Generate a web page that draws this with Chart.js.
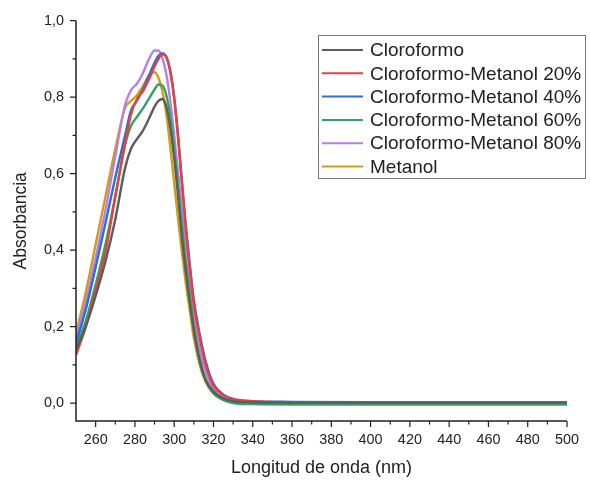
<!DOCTYPE html>
<html>
<head>
<meta charset="utf-8">
<script src="https://cdn.jsdelivr.net/npm/chart.js@4.4.1/dist/chart.umd.min.js"></script>
<style>
  html, body { margin: 0; padding: 0; background: #fff; }
  canvas { display: block; }
</style>
</head>
<body>
<canvas id="uvChart" width="590" height="482"></canvas>
<script>
// Wavelength grid (nm) shared by all spectra
const wavelength = [250, 255, 260, 265, 270, 275, 278, 281, 284, 287, 290, 292, 294, 296, 298, 300,
                    302, 304, 306, 308, 310, 313, 316, 320, 325, 330, 340, 360, 400, 450, 500];

// Absorbance for each solvent
const cloroformo = [0.138, 0.20, 0.28, 0.37, 0.48, 0.615, 0.665, 0.69, 0.712, 0.742, 0.775, 0.79, 0.795, 0.775, 0.72, 0.64,
                    0.54, 0.43, 0.34, 0.26, 0.19, 0.11, 0.06, 0.03, 0.012, 0.005, 0.002, 0.001, 0.001, 0.001, 0.001];
const metanol20 = [0.125, 0.20, 0.295, 0.395, 0.54, 0.68, 0.755, 0.795, 0.815, 0.845, 0.88, 0.90, 0.912, 0.905, 0.865, 0.795,
                   0.69, 0.57, 0.45, 0.35, 0.26, 0.17, 0.10, 0.045, 0.02, 0.01, 0.004, 0.002, 0.002, 0.002, 0.002];
const metanol40 = [0.157, 0.245, 0.355, 0.47, 0.59, 0.70, 0.765, 0.79, 0.82, 0.855, 0.89, 0.908, 0.915, 0.905, 0.87, 0.80,
                   0.70, 0.575, 0.46, 0.36, 0.27, 0.18, 0.11, 0.05, 0.022, 0.011, 0.005, 0.003, 0.002, 0.002, 0.002];
const metanol60 = [0.147, 0.215, 0.31, 0.415, 0.54, 0.675, 0.725, 0.748, 0.77, 0.795, 0.82, 0.833, 0.83, 0.805, 0.75, 0.665,
                   0.565, 0.46, 0.36, 0.28, 0.20, 0.115, 0.06, 0.025, 0.008, 0.0, -0.003, -0.004, -0.004, -0.004, -0.004];
const metanol80 = [0.17, 0.265, 0.38, 0.505, 0.645, 0.78, 0.818, 0.835, 0.862, 0.898, 0.922, 0.922, 0.902, 0.86, 0.79, 0.70,
                   0.60, 0.50, 0.40, 0.31, 0.23, 0.14, 0.08, 0.035, 0.013, 0.006, 0.003, 0.002, 0.001, 0.001, 0.001];
const metanol = [0.183, 0.29, 0.415, 0.54, 0.665, 0.772, 0.79, 0.805, 0.828, 0.855, 0.865, 0.85, 0.815, 0.755, 0.67, 0.575,
                 0.48, 0.39, 0.31, 0.24, 0.17, 0.10, 0.055, 0.025, 0.008, 0.003, 0.001, 0.001, 0.001, 0.001, 0.001];

const seriesLabels = ["Cloroformo", "Cloroformo-Metanol 20%", "Cloroformo-Metanol 40%",
                      "Cloroformo-Metanol 60%", "Cloroformo-Metanol 80%", "Metanol"];
const seriesColors = ["#5c5c5c", "#e8413c", "#2b6fd6", "#2fa366", "#b67fe9", "#d09e14"];
const seriesValues = [cloroformo, metanol20, metanol40, metanol60, metanol80, metanol];

const xTicks = [260, 280, 300, 320, 340, 360, 380, 400, 420, 440, 460, 480, 500];
const yTicks = [0, 0.2, 0.4, 0.6, 0.8, 1.0];

const FONT = "'Liberation Sans', Arial, sans-serif";
const INK = "#222";

const datasets = seriesValues.map((vals, i) => ({
    label: seriesLabels[i],
    data: vals.map((v, j) => ({ x: wavelength[j], y: v })),
    borderColor: seriesColors[i],
    borderWidth: 2.4,
    pointRadius: 0,
    cubicInterpolationMode: "monotone",
    fill: false
}));

// Axis lines with long major and short minor tick marks
const axisPlugin = {
    id: "axisFrame",
    afterDraw(chart) {
        const { ctx, chartArea, scales } = chart;
        const xs = scales.x, ys = scales.y;
        ctx.save();
        ctx.strokeStyle = INK;
        ctx.lineWidth = 1.5;
        ctx.beginPath();
        ctx.moveTo(chartArea.left, chartArea.top);
        ctx.lineTo(chartArea.left, chartArea.bottom);
        ctx.lineTo(chartArea.right, chartArea.bottom);
        ctx.stroke();

        ctx.lineWidth = 1.2;
        ctx.beginPath();
        for (let v = 260; v <= 500; v += 10) {
            const px = xs.getPixelForValue(v);
            const len = v % 20 === 0 ? 6 : 3.5;
            ctx.moveTo(px, chartArea.bottom);
            ctx.lineTo(px, chartArea.bottom + len);
        }
        for (let k = 0; k <= 10; k++) {
            const v = k / 10;
            const py = ys.getPixelForValue(v);
            const len = k % 2 === 0 ? 6 : 3.5;
            ctx.moveTo(chartArea.left, py);
            ctx.lineTo(chartArea.left - len, py);
        }
        ctx.stroke();
        ctx.restore();
    }
};

// Boxed legend in the upper right of the plot
const legendPlugin = {
    id: "boxLegend",
    afterDraw(chart) {
        const { ctx } = chart;
        const x0 = 318, y0 = 35, w = 267, h = 143;
        ctx.save();
        ctx.fillStyle = "#fff";
        ctx.fillRect(x0, y0, w, h);
        ctx.strokeStyle = "#777";
        ctx.lineWidth = 1;
        ctx.strokeRect(x0 + 0.5, y0 + 0.5, w, h);
        ctx.font = "19px " + FONT;
        ctx.textBaseline = "middle";
        ctx.fillStyle = INK;
        chart.data.datasets.forEach((ds, i) => {
            const cy = 50 + i * 23.3;
            ctx.strokeStyle = ds.borderColor;
            ctx.lineWidth = 2;
            ctx.beginPath();
            ctx.moveTo(322, cy);
            ctx.lineTo(363, cy);
            ctx.stroke();
            ctx.fillText(ds.label, 370, cy + 1);
        });
        ctx.restore();
    }
};

new Chart(document.getElementById("uvChart"), {
    type: "line",
    data: { datasets },
    options: {
        responsive: false,
        animation: false,
        devicePixelRatio: 1,
        layout: { padding: { left: 0, right: 23, top: 20, bottom: 0 } },
        plugins: { legend: { display: false }, tooltip: { enabled: false } },
        scales: {
            x: {
                type: "linear",
                min: 250,
                max: 500,
                afterFit: (scale) => { scale.height = 61; },
                afterBuildTicks: (scale) => { scale.ticks = xTicks.map(v => ({ value: v })); },
                grid: { display: false, drawTicks: false },
                border: { display: false },
                ticks: { color: INK, padding: 10, font: { family: FONT, size: 14.4 }, maxRotation: 0 },
                title: { display: true, text: "Longitud de onda (nm)", color: INK,
                         font: { family: FONT, size: 18 }, padding: { top: 0, bottom: 3 } }
            },
            y: {
                min: -0.047,
                max: 1.0,
                afterFit: (scale) => { scale.width = 76; },
                afterBuildTicks: (scale) => { scale.ticks = yTicks.map(v => ({ value: v })); },
                grid: { display: false, drawTicks: false },
                border: { display: false },
                ticks: { color: INK, padding: 12, font: { family: FONT, size: 14.4 },
                         callback: (v) => v.toFixed(1).replace(".", ",") },
                title: { display: true, text: "Absorbancia", color: INK,
                         font: { family: FONT, size: 17.5 }, padding: { top: 11, bottom: 0 } }
            }
        }
    },
    plugins: [axisPlugin, legendPlugin]
});
</script>
</body>
</html>
